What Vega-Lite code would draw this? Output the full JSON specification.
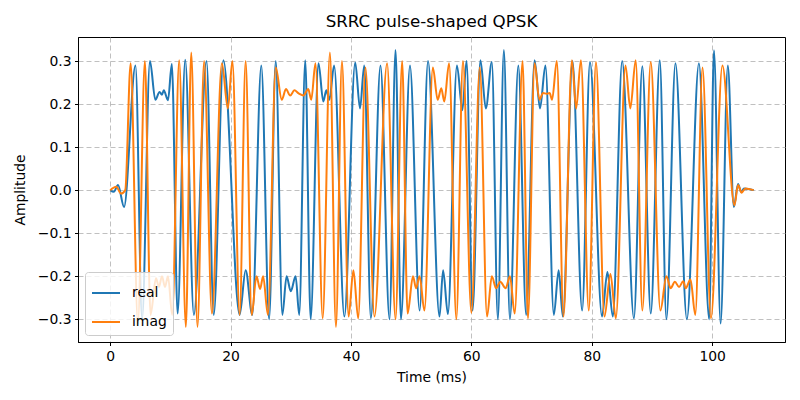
{
 "$schema": "https://vega.github.io/schema/vega-lite/v6.json",
 "width": 707, "height": 305,
 "autosize": {"type": "none"},
 "padding": {"left": 78, "top": 37, "right": 15, "bottom": 58},
 "title": {"text": "SRRC pulse-shaped QPSK", "fontSize": 16.7, "font": "DejaVu Sans", "fontWeight": "normal", "offset": 6, "color": "black"},
 "config": {
  "view": {"stroke": "black", "strokeWidth": 1},
  "font": "DejaVu Sans",
  "axis": {"grid": true, "gridDash": [5, 3], "gridColor": "#b0b0b0", "gridWidth": 0.8, "domainColor": "black", "tickColor": "black", "labelColor": "black", "titleColor": "black", "labelFontSize": 13.9, "titleFontSize": 13.9, "titleFontWeight": "normal", "tickSize": 3.5, "labelPadding": 3.5, "labelFont": "DejaVu Sans", "titleFont": "DejaVu Sans"},
  "legend": {"orient": "bottom-left", "offset": 7, "fillColor": "rgba(255,255,255,0.8)", "strokeColor": "#cccccc", "cornerRadius": 3, "padding": 6, "symbolType": "stroke", "symbolSize": 784, "symbolStrokeWidth": 2, "labelFontSize": 13.9, "labelFont": "DejaVu Sans", "labelColor": "black", "labelOffset": 11, "rowPadding": 7}
 },
 "data": {"values": [
  {"s":"real","t":0,"v":0},{"s":"real","t":0.6,"v":-0.004},{"s":"real","t":1.3,"v":0.012},{"s":"real","t":2.3,"v":-0.039},{"s":"real","t":4.2,"v":0.29},{"s":"real","t":5.3,"v":-0.3},{"s":"real","t":6.6,"v":0.3},{"s":"real","t":7.5,"v":0.21},{"s":"real","t":8.2,"v":0.228},{"s":"real","t":8.6,"v":0.222},{"s":"real","t":8.9,"v":0.232},{"s":"real","t":9.6,"v":0.209},{"s":"real","t":10.24,"v":0.293},{"s":"real","t":11.2,"v":-0.287},{"s":"real","t":12.46,"v":0.303},{"s":"real","t":13.9,"v":-0.29},{"s":"real","t":16.0,"v":0.3},{"s":"real","t":17.2,"v":-0.29},{"s":"real","t":18.8,"v":0.302},{"s":"real","t":21.5,"v":-0.29},{"s":"real","t":22.5,"v":-0.186},{"s":"real","t":23.6,"v":-0.29},{"s":"real","t":25.1,"v":0.29},{"s":"real","t":26.4,"v":-0.3},{"s":"real","t":27.5,"v":0.3},{"s":"real","t":28.6,"v":-0.29},{"s":"real","t":29.3,"v":-0.2},{"s":"real","t":30.0,"v":-0.235},{"s":"real","t":30.8,"v":-0.2},{"s":"real","t":31.4,"v":-0.29},{"s":"real","t":32.4,"v":0.302},{"s":"real","t":33.3,"v":-0.3},{"s":"real","t":34.6,"v":0.295},{"s":"real","t":35.4,"v":0.206},{"s":"real","t":35.9,"v":0.232},{"s":"real","t":36.4,"v":0.21},{"s":"real","t":37.2,"v":0.29},{"s":"real","t":38.9,"v":-0.294},{"s":"real","t":40.7,"v":0.297},{"s":"real","t":41.5,"v":0.19},{"s":"real","t":42.2,"v":0.29},{"s":"real","t":43.3,"v":-0.298},{"s":"real","t":44.9,"v":0.29},{"s":"real","t":46.4,"v":-0.3},{"s":"real","t":47.4,"v":0.326},{"s":"real","t":48.3,"v":-0.3},{"s":"real","t":49.8,"v":0.29},{"s":"real","t":51.4,"v":-0.28},{"s":"real","t":52.8,"v":0.3},{"s":"real","t":54.7,"v":-0.294},{"s":"real","t":55.3,"v":-0.186},{"s":"real","t":56.1,"v":-0.288},{"s":"real","t":57.6,"v":0.29},{"s":"real","t":58.5,"v":0.186},{"s":"real","t":59.2,"v":0.3},{"s":"real","t":60.2,"v":-0.28},{"s":"real","t":61.5,"v":0.302},{"s":"real","t":62.4,"v":0.19},{"s":"real","t":63.4,"v":0.298},{"s":"real","t":64.4,"v":-0.3},{"s":"real","t":65.4,"v":0.326},{"s":"real","t":66.4,"v":-0.3},{"s":"real","t":67.8,"v":0.29},{"s":"real","t":69.1,"v":-0.29},{"s":"real","t":70.5,"v":0.302},{"s":"real","t":71.4,"v":0.19},{"s":"real","t":72.3,"v":0.29},{"s":"real","t":73.7,"v":-0.29},{"s":"real","t":74.5,"v":-0.186},{"s":"real","t":75.2,"v":-0.294},{"s":"real","t":76.8,"v":0.3},{"s":"real","t":78.4,"v":-0.28},{"s":"real","t":79.7,"v":0.298},{"s":"real","t":81.7,"v":-0.294},{"s":"real","t":82.6,"v":-0.19},{"s":"real","t":83.5,"v":-0.294},{"s":"real","t":85.05,"v":0.3},{"s":"real","t":87.0,"v":-0.298},{"s":"real","t":88.4,"v":0.288},{"s":"real","t":89.8,"v":-0.287},{"s":"real","t":91.3,"v":0.302},{"s":"real","t":92.4,"v":-0.3},{"s":"real","t":93.9,"v":0.295},{"s":"real","t":95.8,"v":-0.3},{"s":"real","t":97.8,"v":0.295},{"s":"real","t":99.5,"v":-0.3},{"s":"real","t":100.3,"v":0.325},{"s":"real","t":101.4,"v":-0.31},{"s":"real","t":102.6,"v":0.29},{"s":"real","t":103.6,"v":-0.039},{"s":"real","t":104.3,"v":0.014},{"s":"real","t":104.8,"v":-0.004},{"s":"real","t":105.3,"v":0.004},{"s":"real","t":106.9,"v":0},
  {"s":"imag","t":0,"v":0},{"s":"imag","t":1.0,"v":0.008},{"s":"imag","t":1.8,"v":-0.008},{"s":"imag","t":2.5,"v":0.0},{"s":"imag","t":3.4,"v":0.295},{"s":"imag","t":4.6,"v":-0.31},{"s":"imag","t":5.76,"v":0.3},{"s":"imag","t":6.7,"v":-0.29},{"s":"imag","t":7.6,"v":-0.205},{"s":"imag","t":8.1,"v":-0.225},{"s":"imag","t":8.6,"v":-0.2},{"s":"imag","t":9.1,"v":-0.225},{"s":"imag","t":9.6,"v":-0.2},{"s":"imag","t":10.3,"v":-0.29},{"s":"imag","t":11.46,"v":0.302},{"s":"imag","t":12.57,"v":-0.318},{"s":"imag","t":13.46,"v":0.32},{"s":"imag","t":14.5,"v":-0.318},{"s":"imag","t":15.6,"v":0.3},{"s":"imag","t":16.9,"v":-0.287},{"s":"imag","t":18.55,"v":0.295},{"s":"imag","t":19.55,"v":0.19},{"s":"imag","t":20.3,"v":0.3},{"s":"imag","t":21.5,"v":-0.29},{"s":"imag","t":22.5,"v":0.3},{"s":"imag","t":23.5,"v":-0.29},{"s":"imag","t":24.3,"v":-0.2},{"s":"imag","t":24.9,"v":-0.23},{"s":"imag","t":25.4,"v":-0.2},{"s":"imag","t":26.2,"v":-0.29},{"s":"imag","t":27.5,"v":0.285},{"s":"imag","t":28.5,"v":0.21},{"s":"imag","t":29.2,"v":0.235},{"s":"imag","t":29.9,"v":0.22},{"s":"imag","t":30.6,"v":0.232},{"s":"imag","t":31.3,"v":0.225},{"s":"imag","t":32.1,"v":0.22},{"s":"imag","t":32.9,"v":0.235},{"s":"imag","t":33.4,"v":0.21},{"s":"imag","t":34.1,"v":0.295},{"s":"imag","t":35.3,"v":-0.298},{"s":"imag","t":36.5,"v":0.32},{"s":"imag","t":37.5,"v":-0.318},{"s":"imag","t":38.5,"v":0.3},{"s":"imag","t":39.6,"v":-0.294},{"s":"imag","t":40.4,"v":-0.186},{"s":"imag","t":41.2,"v":-0.298},{"s":"imag","t":42.4,"v":0.285},{"s":"imag","t":43.9,"v":-0.294},{"s":"imag","t":46.0,"v":0.295},{"s":"imag","t":47.4,"v":-0.3},{"s":"imag","t":48.5,"v":0.3},{"s":"imag","t":49.4,"v":-0.287},{"s":"imag","t":50.3,"v":-0.2},{"s":"imag","t":50.8,"v":-0.228},{"s":"imag","t":51.4,"v":-0.2},{"s":"imag","t":52.2,"v":-0.28},{"s":"imag","t":53.6,"v":0.285},{"s":"imag","t":54.4,"v":0.21},{"s":"imag","t":55.0,"v":0.237},{"s":"imag","t":55.5,"v":0.206},{"s":"imag","t":56.3,"v":0.295},{"s":"imag","t":57.5,"v":-0.3},{"s":"imag","t":58.6,"v":0.3},{"s":"imag","t":60.0,"v":-0.285},{"s":"imag","t":61.4,"v":0.285},{"s":"imag","t":62.6,"v":-0.294},{"s":"imag","t":63.4,"v":-0.2},{"s":"imag","t":64.1,"v":-0.228},{"s":"imag","t":64.8,"v":-0.213},{"s":"imag","t":65.7,"v":-0.228},{"s":"imag","t":66.4,"v":-0.2},{"s":"imag","t":67.2,"v":-0.287},{"s":"imag","t":68.5,"v":0.3},{"s":"imag","t":69.4,"v":-0.298},{"s":"imag","t":70.5,"v":0.295},{"s":"imag","t":71.3,"v":0.21},{"s":"imag","t":71.9,"v":0.226},{"s":"imag","t":72.5,"v":0.224},{"s":"imag","t":73.0,"v":0.226},{"s":"imag","t":73.4,"v":0.21},{"s":"imag","t":74.2,"v":0.3},{"s":"imag","t":75.3,"v":-0.294},{"s":"imag","t":76.7,"v":0.302},{"s":"imag","t":77.4,"v":0.19},{"s":"imag","t":78.2,"v":0.302},{"s":"imag","t":79.5,"v":-0.28},{"s":"imag","t":80.7,"v":0.298},{"s":"imag","t":82.1,"v":-0.294},{"s":"imag","t":83.1,"v":-0.195},{"s":"imag","t":84.0,"v":-0.298},{"s":"imag","t":85.6,"v":0.29},{"s":"imag","t":86.4,"v":0.19},{"s":"imag","t":87.3,"v":0.302},{"s":"imag","t":88.4,"v":-0.28},{"s":"imag","t":89.8,"v":0.298},{"s":"imag","t":91.4,"v":-0.28},{"s":"imag","t":92.4,"v":-0.2},{"s":"imag","t":93.1,"v":-0.228},{"s":"imag","t":93.8,"v":-0.213},{"s":"imag","t":94.5,"v":-0.225},{"s":"imag","t":95.2,"v":-0.212},{"s":"imag","t":95.6,"v":-0.228},{"s":"imag","t":96.4,"v":-0.208},{"s":"imag","t":97.2,"v":-0.29},{"s":"imag","t":98.4,"v":0.285},{"s":"imag","t":99.8,"v":-0.298},{"s":"imag","t":101.7,"v":0.29},{"s":"imag","t":103.7,"v":-0.035},{"s":"imag","t":104.3,"v":0.012},{"s":"imag","t":104.9,"v":-0.006},{"s":"imag","t":105.5,"v":0.004},{"s":"imag","t":106.9,"v":0}
 ]},
 "encoding": {
  "x": {"field": "t", "type": "quantitative", "title": "Time (ms)", "scale": {"domain": [-5.35, 112.1], "nice": false, "zero": false}, "axis": {"values": [0, 20, 40, 60, 80, 100], "titlePadding": 8}},
  "y": {"field": "v", "type": "quantitative", "title": "Amplitude", "scale": {"domain": [-0.353, 0.356], "nice": false, "zero": false}, "axis": {"values": [-0.3, -0.2, -0.1, 0, 0.1, 0.2, 0.3], "format": ".1f", "titlePadding": 10}},
  "color": {"field": "s", "type": "nominal", "title": null, "scale": {"domain": ["real", "imag"], "range": ["#1f77b4", "#ff7f0e"]}},
  "order": {"field": "t", "type": "quantitative"}
 },
 "layer": [
  {"transform": [{"filter": "datum.s === 'real'"}], "mark": {"type": "line", "interpolate": "monotone", "strokeWidth": 2, "clip": true}},
  {"transform": [{"filter": "datum.s === 'imag'"}], "mark": {"type": "line", "interpolate": "monotone", "strokeWidth": 2, "clip": true}}
 ]
}
